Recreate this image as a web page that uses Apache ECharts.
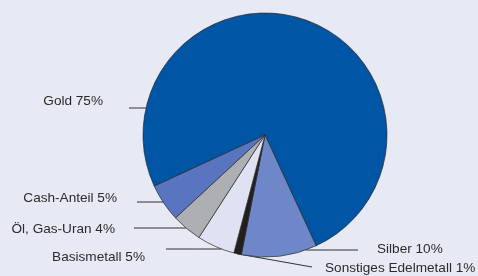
<!DOCTYPE html>
<html>
<head>
<meta charset="utf-8">
<script src="https://cdn.jsdelivr.net/npm/echarts@6/dist/echarts.min.js"></script>
<style>
	html, body {margin: 0; padding: 0; background: #e7e9f5;}
	#chart {width: 478px; height: 276px;}
</style>
</head>
<body>
<div id="chart"></div>
<script>
let categories = ['Gold', 'Silber', 'Sonstiges Edelmetall', 'Basismetall', 'Öl, Gas-Uran', 'Cash-Anteil'];
let shares = [75, 10, 1, 5, 4, 5];
let colors = ['#0055a5', '#6e87c8', '#231f20', '#dfe2f3', '#adafb3', '#5a75c0'];

// where each label sits and where its leader line ends
let labelSpots = {
	'Gold': {side: -1, lineY: 108, lineEnd: 129, x: 103, y: 101},
	'Silber': {side: 1, lineY: 250, lineEnd: 358, x: 377, y: 249},
	'Sonstiges Edelmetall': {side: 1, lineY: null, lineEnd: 312, lineEndY: 267, x: 325, y: 268},
	'Basismetall': {side: -1, lineY: 249, lineEnd: 166, x: 145, y: 257},
	'Öl, Gas-Uran': {side: -1, lineY: 228, lineEnd: 134, x: 115, y: 229},
	'Cash-Anteil': {side: -1, lineY: 202, lineEnd: 137, x: 117, y: 198},
};

let cx = 265;
let cy = 135;
let radius = 122;

let chart = echarts.init(document.getElementById('chart'));

chart.setOption({
	backgroundColor: '#e7e9f5',
	animation: false,
	series: [{
		type: 'pie',
		center: [cx, cy],
		radius: radius,
		startAngle: 204.8,
		clockwise: true,
		avoidLabelOverlap: false,
		data: categories.map((name, i) => ({
			name: name,
			value: shares[i],
			itemStyle: {color: colors[i]},
		})),
		itemStyle: {
			borderColor: '#2a2a2a',
			borderWidth: 0.7,
		},
		label: {
			show: true,
			position: 'outside',
			formatter: (p) => p.name + ' ' + p.value + '%',
			fontFamily: '"Liberation Sans", Arial, sans-serif',
			fontSize: 13.6,
			color: '#2b2b2b',
		},
		labelLine: {
			show: true,
			lineStyle: {color: '#333', width: 1},
		},
		labelLayout: (params) => {
			let name = categories[params.dataIndex];
			let spot = labelSpots[name];
			let points;
			if (spot.lineY === null) {
				let start = params.labelLinePoints[0];
				let midX = (start[0] + spot.lineEnd) / 2;
				let midY = (start[1] + spot.lineEndY) / 2;
				points = [start, [midX, midY], [spot.lineEnd, spot.lineEndY]];
			} else {
				let dy = spot.lineY - cy;
				let edgeX = cx + spot.side * Math.sqrt(radius * radius - dy * dy);
				let midX = (edgeX + spot.lineEnd) / 2;
				points = [[edgeX, spot.lineY], [midX, spot.lineY], [spot.lineEnd, spot.lineY]];
			}
			return {
				x: spot.x,
				y: spot.y,
				align: spot.side < 0 ? 'right' : 'left',
				verticalAlign: 'middle',
				labelLinePoints: points,
			};
		},
		emphasis: {disabled: true},
	}],
});
</script>
</body>
</html>
